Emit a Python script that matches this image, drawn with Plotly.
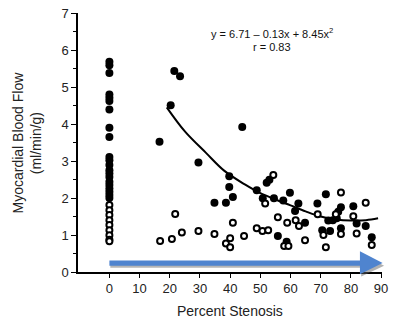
import plotly.graph_objects as go

# ---------------- data ----------------
zero_filled_y = [5.68, 5.59, 5.38, 4.80, 4.71, 4.62, 4.39, 3.90, 3.65, 3.11, 3.02, 2.89,
                 2.75, 2.66, 2.57, 2.44, 2.35, 2.26, 2.17, 2.08, 2.00]
zero_open_y = [1.81, 1.67, 1.54, 1.40, 1.27, 1.13, 0.99, 0.87, 0.83]

filled_x = [21.5, 23.4, 20.3, 44.0, 16.6, 29.5, 39.7, 39.7, 40.9, 34.8, 38.6,
            52.1, 53.0, 48.8, 50.8, 54.5, 57.6, 59.8, 62.6, 61.5, 64.8, 55.8, 58.7,
            71.7, 68.9, 76.7, 80.8, 75.8, 72.5, 75.3, 74.0, 81.9, 84.9, 70.5, 73.1, 76.7, 86.9]
filled_y = [5.43, 5.29, 4.51, 3.92, 3.52, 2.96, 2.59, 2.30, 2.03, 1.87, 1.87,
            2.41, 2.49, 2.21, 1.99, 1.99, 1.93, 2.14, 1.85, 1.65, 1.33, 0.97, 0.82,
            2.10, 1.85, 1.75, 1.78, 1.63, 1.39, 1.45, 1.40, 1.31, 1.24, 1.13, 1.11, 1.18, 0.94]

open_x = [21.8, 40.9, 16.8, 20.7, 24.0, 29.5, 34.8, 40.0, 38.6, 40.0, 44.6,
          54.3, 51.6, 55.8, 58.9, 61.7, 62.8, 48.8, 50.7, 52.6, 57.9, 59.3, 64.8,
          76.7, 84.9, 69.0, 80.8, 75.0, 70.9, 76.7, 81.9, 71.7, 86.9]
open_y = [1.57, 1.33, 0.84, 0.89, 1.07, 1.11, 1.03, 0.91, 0.77, 0.67, 0.97,
          2.62, 1.85, 1.48, 1.33, 1.40, 1.24, 1.18, 1.11, 1.13, 0.70, 0.70, 0.86,
          2.15, 1.87, 1.56, 1.51, 1.56, 1.00, 1.03, 1.04, 0.67, 0.73]

fit_x = [19, 25, 32, 38, 45, 50, 55, 60, 65, 70, 75, 80, 85, 89]
fit_y = [4.45, 3.80, 3.22, 2.74, 2.36, 2.13, 1.96, 1.80, 1.64, 1.50, 1.42, 1.39, 1.40, 1.45]

x_ticks = [0, 10, 20, 30, 40, 50, 60, 70, 80, 90]
y_ticks = [0, 1, 2, 3, 4, 5, 6, 7]

XR = [-10.4, 90.3]
YR = [0, 7]

FONT = "Arial, Liberation Sans, Helvetica, sans-serif"

fig = go.Figure()

fig.add_trace(go.Scatter(
    x=fit_x, y=fit_y, mode="lines", line=dict(color="black", width=2, shape="spline"),
    hoverinfo="skip", showlegend=False))

fig.add_trace(go.Scatter(
    x=[0] * len(zero_filled_y) + filled_x, y=zero_filled_y + filled_y, mode="markers",
    marker=dict(color="black", size=8, symbol="circle", line=dict(width=0)),
    showlegend=False))

fig.add_trace(go.Scatter(
    x=[0] * len(zero_open_y) + open_x, y=zero_open_y + open_y, mode="markers",
    marker=dict(color="white", size=6, symbol="circle", line=dict(color="black", width=2)),
    showlegend=False))

# arrow decoration (in paper coordinates)
def px(xv):
    return (xv - XR[0]) / (XR[1] - XR[0])

def py(yv):
    return (yv - YR[0]) / (YR[1] - YR[0])

shapes = []
# shadow
shapes.append(dict(type="rect", xref="paper", yref="paper",
                   x0=px(0.3), x1=px(84), y0=py(0.115), y1=py(0.19),
                   fillcolor="rgba(120,120,120,0.55)", line=dict(width=0), layer="above"))
# shaft
shapes.append(dict(type="rect", xref="paper", yref="paper",
                   x0=px(0), x1=px(84), y0=py(0.17), y1=py(0.31),
                   fillcolor="#4f84cf", line=dict(width=0), layer="above"))
# head shadow
shapes.append(dict(type="path", xref="paper", yref="paper",
                   path=f"M {px(83.4)} {py(0.5)} L {px(91.0)} {py(0.17)} L {px(83.4)} {py(-0.12)} Z",
                   fillcolor="rgba(100,100,100,0.5)", line=dict(width=0), layer="above"))
# head
shapes.append(dict(type="path", xref="paper", yref="paper",
                   path=f"M {px(83.0)} {py(0.56)} L {px(90.5)} {py(0.24)} L {px(83.0)} {py(-0.06)} Z",
                   fillcolor="#4f84cf", line=dict(width=0), layer="above"))

annotations = [
    dict(text="y = 6.71 – 0.13x + 8.45x<sup>2</sup>", xref="paper", yref="paper",
         x=px(53.9), y=py(6.45), showarrow=False, xanchor="center", yanchor="middle",
         font=dict(family=FONT, size=11, color="#111")),
    dict(text="r = 0.83", xref="paper", yref="paper",
         x=px(53.9), y=py(6.08), showarrow=False, xanchor="center", yanchor="middle",
         font=dict(family=FONT, size=11, color="#111")),
    dict(text="Myocardial Blood Flow<br>(ml/min/g)", xref="paper", yref="paper",
         x=0, y=0.5, xshift=-52, showarrow=False, textangle=-90,
         xanchor="center", yanchor="middle",
         font=dict(family=FONT, size=14, color="#222")),
    dict(text="Percent Stenosis", xref="paper", yref="paper",
         x=0.5, y=0, yshift=-39, showarrow=False,
         xanchor="center", yanchor="middle",
         font=dict(family=FONT, size=14, color="#222")),
]

fig.update_layout(
    width=395, height=324,
    margin=dict(l=78, r=13, t=13, b=52),
    paper_bgcolor="white", plot_bgcolor="white",
    font=dict(family=FONT, size=13, color="#222"),
    shapes=shapes, annotations=annotations,
    xaxis=dict(range=XR, tickvals=x_ticks, ticktext=[str(v) for v in x_ticks],
               automargin=False,
               showgrid=False, zeroline=False, showline=True, linecolor="black", linewidth=1.5,
               ticks="outside", ticklen=4, tickwidth=1.2, tickcolor="black",
               tickfont=dict(family=FONT, size=13, color="#222")),
    yaxis=dict(range=YR, tickvals=y_ticks, ticktext=[str(v) for v in y_ticks],
               automargin=False,
               showgrid=False, zeroline=False, showline=True, linecolor="black", linewidth=1.5,
               ticks="outside", ticklen=5, tickwidth=1.2, tickcolor="black",
               minor=dict(dtick=0.5, ticks="outside", ticklen=3, tickcolor="black", showgrid=False),
               tickfont=dict(family=FONT, size=13, color="#222")),
)

fig.write_html("out.html")
